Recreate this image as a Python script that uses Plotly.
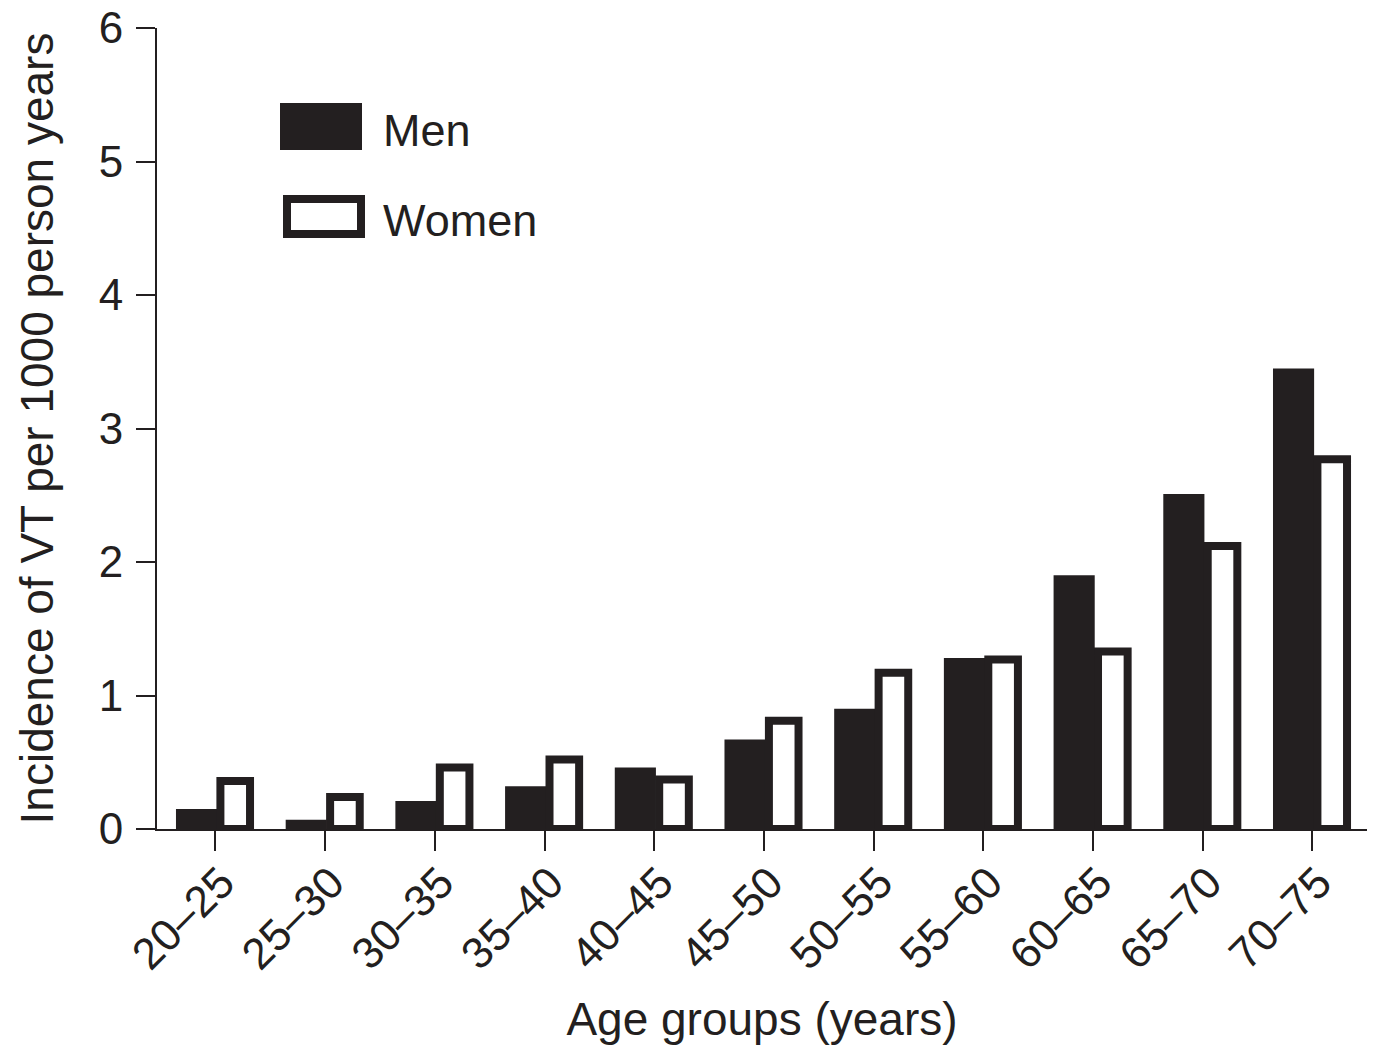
import plotly.graph_objects as go

# Age groups and incidence of VT per 1000 person years
age_groups = ["20–25", "25–30", "30–35", "35–40", "40–45", "45–50",
              "50–55", "55–60", "60–65", "65–70", "70–75"]
men = [0.15, 0.07, 0.21, 0.32, 0.46, 0.67, 0.90, 1.28, 1.90, 2.51, 3.45]
women = [0.36, 0.24, 0.46, 0.52, 0.37, 0.81, 1.17, 1.27, 1.33, 2.12, 2.77]
series_names = ["Men", "Women"]
y_ticks = [0, 1, 2, 3, 4, 5, 6]

INK = "#231f20"
FONT = "Liberation Sans, Arial, Helvetica, sans-serif"

W, H = 1381, 1051
M_L, M_R, M_T, M_B = 157, 14, 28, 222
PLOT_W = W - M_L - M_R
PLOT_H = H - M_T - M_B


def px_x(px):
    return (px - M_L) / PLOT_W


def px_y(py):
    return (H - M_B - py) / PLOT_H


n = len(age_groups)
fig = go.Figure()

fig.add_trace(go.Bar(
    x=age_groups, y=men, name=series_names[0],
    offset=[-0.36] * n, width=[0.375] * n,
    marker=dict(color=INK, line=dict(width=0)),
    showlegend=False,
))
fig.add_trace(go.Bar(
    x=age_groups, y=women, name=series_names[1],
    offset=[0.045] * n, width=[0.27] * n,
    marker=dict(color="white", line=dict(color=INK, width=8)),
    showlegend=False,
))

# Legend swatches drawn as shapes with text labels
shapes = [
    dict(type="rect", xref="paper", yref="paper",
         x0=px_x(280), x1=px_x(362), y0=px_y(150), y1=px_y(103),
         fillcolor=INK, line=dict(width=0)),
    dict(type="rect", xref="paper", yref="paper",
         x0=px_x(287), x1=px_x(361), y0=px_y(234), y1=px_y(199),
         fillcolor="white", line=dict(color=INK, width=8)),
]
annotations = [
    dict(text=series_names[0], xref="paper", yref="paper",
         x=px_x(381), y=px_y(130), xanchor="left", yanchor="middle",
         showarrow=False, font=dict(size=45, color=INK, family=FONT)),
    dict(text=series_names[1], xref="paper", yref="paper",
         x=px_x(381), y=px_y(220), xanchor="left", yanchor="middle",
         showarrow=False, font=dict(size=45, color=INK, family=FONT)),
]

fig.update_layout(
    width=W, height=H,
    margin=dict(l=M_L, r=M_R, t=M_T, b=M_B, autoexpand=False),
    paper_bgcolor="white", plot_bgcolor="white",
    barmode="overlay",
    font=dict(family=FONT, color=INK, size=44),
    shapes=shapes, annotations=annotations,
    showlegend=False,
)

fig.update_xaxes(
    type="category", range=[-0.533, 10.497],
    showline=True, linecolor=INK, linewidth=2,
    ticks="outside", ticklen=20, tickwidth=2, tickcolor=INK,
    tickangle=-45, tickfont=dict(size=44),
    ticklabelstandoff=-12, ticklabelshift=6,
    showgrid=False, zeroline=False,
    title=dict(text="Age groups (years)", font=dict(size=46), standoff=26),
)
fig.update_yaxes(
    range=[0, 6], tickvals=y_ticks,
    showline=True, linecolor=INK, linewidth=2,
    ticks="outside", ticklen=19, tickwidth=2, tickcolor=INK,
    ticklabelstandoff=4, tickfont=dict(size=44),
    showgrid=False, zeroline=False,
    title=dict(text="Incidence of VT per 1000 person years",
               font=dict(size=46), standoff=31),
)

fig.write_html("out.html")
